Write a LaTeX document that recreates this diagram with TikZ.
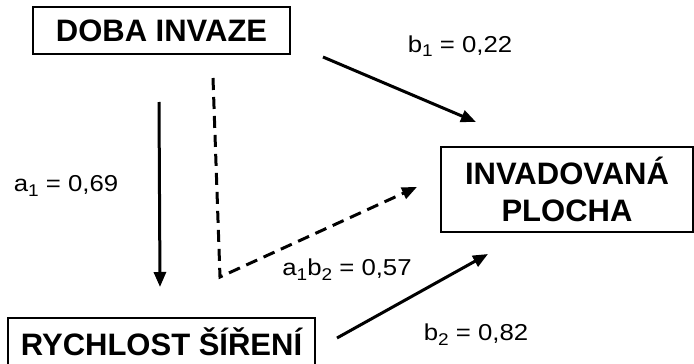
\documentclass[tikz,border=0pt]{standalone}
\usepackage{fontspec}
\setmainfont{Liberation Sans}
\newfontfamily\lblfont[FakeStretch=1.12]{Liberation Sans}
\usetikzlibrary{arrows.meta}
\newcommand{\sbs}[1]{\raisebox{-5pt}{\fontsize{17}{17}\selectfont #1}}
\tikzset{
  box/.style={draw, line width=2pt, inner sep=0pt, font=\fontsize{31}{37}\selectfont\bfseries, align=center},
  lbl/.style={inner sep=0pt, font=\lblfont\fontsize{23}{28}\selectfont},
  arr/.style={line width=3pt, -{Triangle[length=15pt,width=12pt]}},
  darr/.style={arr, dash pattern=on 12pt off 7pt}
}
\begin{document}
\begin{tikzpicture}[x=1pt,y=-1pt]
\useasboundingbox (0,0) rectangle (694,364);
\node[box, minimum width=257pt, minimum height=47pt] (doba) at (161.5,30.5) {DOBA INVAZE};
\node[box, minimum width=252pt, minimum height=85pt] (plocha) at (567,189.5) {INVADOVANÁ\\PLOCHA};
\node[box, minimum width=307pt, minimum height=48pt] (rych) at (161.5,342) {RYCHLOST ŠÍŘENÍ};
% connector end points
\coordinate (a1s) at (159,102);
\coordinate (a1e) at (160,287);
\coordinate (ds) at (213,78);
\coordinate (dc) at (220,277);
\coordinate (de) at (417,187);
\coordinate (b1s) at (323,57);
\coordinate (b1e) at (476,122);
\coordinate (b2s) at (337,338);
\coordinate (b2e) at (488,254);
\draw[arr] (a1s) -- (a1e);
\draw[darr] (ds) -- (dc) -- (de);
\draw[arr] (b1s) -- (b1e);
\draw[arr] (b2s) -- (b2e);
\node[lbl, anchor=base] (l1) at (460,52) {b\sbs{1} = 0,22};
\node[lbl, anchor=base] (l2) at (66,191) {a\sbs{1} = 0,69};
\node[lbl, anchor=base] (l3) at (347,275) {a\sbs{1}b\sbs{2} = 0,57};
\node[lbl, anchor=base] (l4) at (476,340) {b\sbs{2} = 0,82};
\end{tikzpicture}
\end{document}
